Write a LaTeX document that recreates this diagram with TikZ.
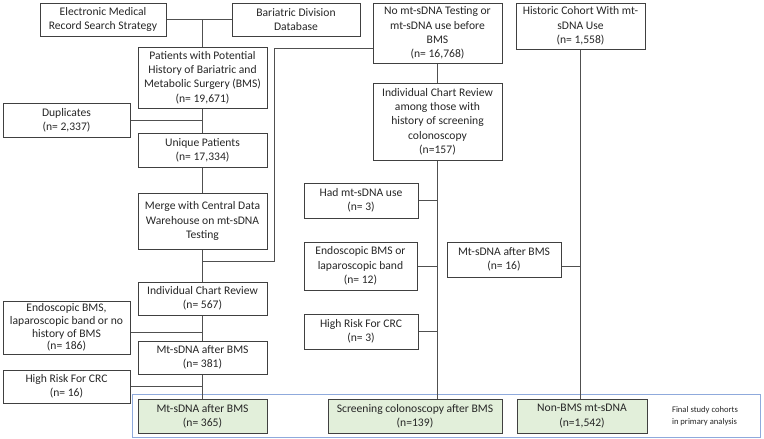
\documentclass[tikz,border=0pt]{standalone}
\usepackage{fontspec}
\setmainfont{Carlito}
\definecolor{boxc}{HTML}{404040}
\definecolor{linec}{HTML}{505050}
\definecolor{greenc}{HTML}{E2EFDA}
\definecolor{framec}{HTML}{8FAADC}
\definecolor{txt}{HTML}{262626}
\newcommand\bx[7]{\node[#6, minimum width={#4-#2}, minimum height={#5-#3}] (#1) at ({(#2+#4)/2},{(#3+#5)/2}) {#7};}
\begin{document}
\begin{tikzpicture}[x=1pt,y=-1pt,
  box/.style={draw=boxc, line width=1pt, align=center, inner sep=0pt, text=txt,
    font=\fontsize{11.6}{14.3}\selectfont},
  tight/.style={font=\fontsize{11.6}{12.8}\selectfont},
  cohort/.style={box, fill=greenc},
  conn/.style={draw=linec, line width=1pt},
  framebox/.style={draw=framec, line width=1pt, inner sep=0pt}]
\useasboundingbox (0,0) rectangle (764,439);
% frame of final cohorts
\bx{frame}{132}{394}{760}{437}{framebox}{}
% left column
\bx{emr}{40}{3}{166}{36}{box}{Electronic Medical\\Record Search Strategy}
\bx{bdd}{232}{3}{360}{36}{box}{Bariatric Division\\Database}
\bx{pat}{138}{47}{267}{108}{box}{Patients with Potential\\History of Bariatric and\\Metabolic Surgery (BMS)\\(n= 19,671)}
\bx{dup}{3}{103}{130}{137}{box}{Duplicates\\(n= 2,337)}
\bx{uniq}{138}{133}{267}{167}{box}{Unique Patients\\(n= 17,334)}
\bx{merge}{138}{193}{267}{249}{box}{Merge with Central Data\\Warehouse on mt-sDNA\\Testing}
\bx{icra}{138}{282}{267}{315}{box}{Individual Chart Review\\(n= 567)}
\bx{endoa}{3}{301}{130}{354}{box,tight}{Endoscopic BMS,\\laparoscopic band or no\\history of BMS\\(n= 186)}
\bx{mta}{138}{341}{267}{374}{box}{Mt-sDNA after BMS\\(n= 381)}
\bx{hra}{3}{370}{130}{403}{box}{High Risk For CRC\\(n= 16)}
\bx{ga}{138}{399}{267}{433}{cohort}{Mt-sDNA after BMS\\(n= 365)}
% middle column
\bx{nomt}{373}{3}{502}{63}{box}{No mt-sDNA Testing or\\mt-sDNA use before\\BMS\\(n= 16,768)}
\bx{icrb}{373}{83}{502}{160}{box}{Individual Chart Review\\among those with\\history of screening\\colonoscopy\\(n=157)}
\bx{had}{304}{183}{418}{218}{box}{Had mt-sDNA use\\(n= 3)}
\bx{endob}{304}{242}{417}{290}{box}{Endoscopic BMS or\\laparoscopic band\\(n= 12)}
\bx{hrb}{304}{314}{418}{349}{box}{High Risk For CRC\\(n= 3)}
\bx{gb}{328}{399}{502}{433}{cohort}{Screening colonoscopy after BMS\\(n=139)}
% right column
\bx{hist}{516}{3}{645}{49}{box}{Historic Cohort With mt-\\sDNA Use\\(n= 1,558)}
\bx{mtc}{447}{242}{561}{277}{box}{Mt-sDNA after BMS\\(n= 16)}
\bx{gc}{517}{399}{647}{433}{cohort}{Non-BMS mt-sDNA\\(n=1,542)}
\node[align=left, inner sep=0pt, text=txt, font=\fontsize{8.6}{11.5}\selectfont] (note) at (705,416) {Final study cohorts\\in primary analysis};
% connectors left
\draw[conn] (emr.east) -- (bdd.west);
\draw[conn] (pat.north) -- (pat.north |- emr.east);
\draw[conn] (dup.east) -- (dup.east -| pat.south);
\draw[conn] (pat.south) -- (uniq.north);
\draw[conn] (uniq.south) -- (merge.north);
\draw[conn] (merge.south) -- (icra.north);
\coordinate (ja) at (274,261);
\coordinate (jb) at (274,48);
\draw[conn] (ja -| merge.south) -- (ja) -- (jb) -- (jb -| nomt.west);
\coordinate (ca) at (202.5,332);
\draw[conn] (ca -| endoa.east) -- (ca);
\draw[conn] (icra.south) -- (mta.north);
\draw[conn] (mta.south) -- (ga.north);
\draw[conn] (hra.east) -- (hra.east -| mta.south);
% connectors middle
\draw[conn] (nomt.south) -- (icrb.north);
\draw[conn] (icrb.south) -- (icrb.south |- gb.north);
\draw[conn] (had.east) -- (had.east -| icrb.south);
\draw[conn] (endob.east) -- (endob.east -| icrb.south);
\draw[conn] (hrb.east) -- (hrb.east -| icrb.south);
% connectors right
\draw[conn] (hist.south) -- (hist.south |- gc.north);
\coordinate (cc) at (561,266);
\draw[conn] (cc -| mtc.east) -- (cc -| hist.south);
\end{tikzpicture}
\end{document}
